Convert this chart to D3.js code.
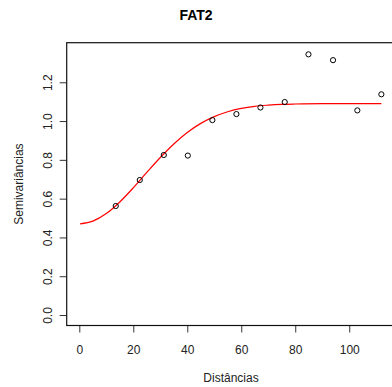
<!DOCTYPE html>
<html>
<head>
<meta charset="utf-8">
<script src="https://cdn.jsdelivr.net/npm/d3@7"></script>
<style>
  body { margin: 0; background: #fff; }
  svg text { font-family: "Liberation Sans", Arial, sans-serif; }
</style>
</head>
<body>
<svg id="chart" width="392" height="387"></svg>
<script>
// Empirical semivariogram points
const distances = [13.5, 22.4, 31.3, 40.2, 49.3, 58.2, 67.1, 76.1, 84.9, 94.0, 103.0, 111.9];
const semivariances = [0.562, 0.696, 0.825, 0.822, 1.005, 1.036, 1.07, 1.098, 1.344, 1.314, 1.055, 1.138];

// Fitted model curve
const modelDist = [0.3, 5, 10, 15, 20, 25, 30, 35, 40, 45, 50, 55, 60, 65, 70, 75, 80, 90, 100, 111.9];
const modelGamma = [0.47, 0.484, 0.523, 0.583, 0.656, 0.735, 0.812, 0.882, 0.941, 0.988, 1.023, 1.048, 1.065, 1.076, 1.082, 1.086, 1.088, 1.09, 1.09, 1.09];

const xTicks = [0, 20, 40, 60, 80, 100];
const yTicks = [0.0, 0.2, 0.4, 0.6, 0.8, 1.0, 1.2];

const svg = d3.select("#chart");

// Plot box (right side runs off the canvas)
const boxLeft = 66.7, boxRight = 407, boxTop = 42.7, boxBottom = 325.5;

const x = d3.scaleLinear().domain([-4.67, 121.4]).range([boxLeft, boxRight]);
const y = d3.scaleLinear().domain([-0.054, 1.404]).range([boxBottom, boxTop]);

// Title
svg.append("text")
  .attr("x", 196)
  .attr("y", 20)
  .attr("text-anchor", "middle")
  .attr("font-size", "14px")
  .attr("font-weight", "bold")
  .text("FAT2");

// X axis
const xAxis = svg.append("g")
  .attr("transform", `translate(0, ${boxBottom})`)
  .call(d3.axisBottom(x).tickValues(xTicks).tickSize(7).tickPadding(13).tickFormat(d3.format("d")));
xAxis.select(".domain").remove();
xAxis.selectAll("text").attr("font-size", "12px").attr("font-family", "Liberation Sans, Arial, sans-serif").attr("fill", "#222");
xAxis.selectAll("line").attr("stroke", "#333");

// Y axis
const yAxis = svg.append("g")
  .attr("transform", `translate(${boxLeft}, 0)`)
  .call(d3.axisLeft(y).tickValues(yTicks).tickSize(7).tickFormat(d3.format(".1f")));
yAxis.select(".domain").remove();
yAxis.selectAll("line").attr("stroke", "#333");
yAxis.selectAll("text")
  .attr("font-size", "12px")
  .attr("font-family", "Liberation Sans, Arial, sans-serif")
  .attr("fill", "#222")
  .attr("text-anchor", "middle")
  .attr("x", null)
  .attr("dy", null)
  .attr("transform", "translate(-18.5, 0) rotate(-90)")
  .attr("dominant-baseline", "central");

// Box
svg.append("rect")
  .attr("x", boxLeft)
  .attr("y", boxTop)
  .attr("width", boxRight - boxLeft)
  .attr("height", boxBottom - boxTop)
  .attr("fill", "none")
  .attr("stroke", "#111")
  .attr("stroke-width", 1.2);

// Axis labels
svg.append("text")
  .attr("x", 231)
  .attr("y", 382)
  .attr("text-anchor", "middle")
  .attr("font-size", "12px")
  .attr("fill", "#222")
  .text("Distâncias");

svg.append("text")
  .attr("transform", `translate(23, ${(boxTop + boxBottom) / 2}) rotate(-90)`)
  .attr("text-anchor", "middle")
  .attr("font-size", "12px")
  .attr("fill", "#222")
  .text("Semivariâncias");

// Model curve
const line = d3.line()
  .x((d, i) => x(modelDist[i]))
  .y((d) => y(d))
  .curve(d3.curveMonotoneX);

svg.append("path")
  .datum(modelGamma)
  .attr("d", line)
  .attr("fill", "none")
  .attr("stroke", "#ff0000")
  .attr("stroke-width", 1.2);

// Points
svg.selectAll(".pt")
  .data(distances)
  .enter()
  .append("circle")
  .attr("class", "pt")
  .attr("cx", (d) => x(d))
  .attr("cy", (d, i) => y(semivariances[i]))
  .attr("r", 2.6)
  .attr("fill", "none")
  .attr("stroke", "#000")
  .attr("stroke-width", 1);
</script>
</body>
</html>
